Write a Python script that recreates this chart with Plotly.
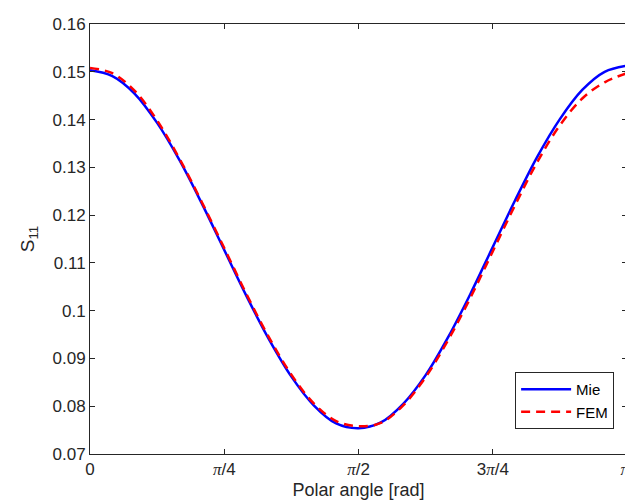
import plotly.graph_objects as go
import numpy as np

# polar angle samples, in fractions of pi (k*pi/24)
theta_frac = [k / 24 for k in range(25)]

mie = [0.1503, 0.1491, 0.1454, 0.1393, 0.1315, 0.1224, 0.1127, 0.1030, 0.0940,
       0.0862, 0.0802, 0.0764, 0.0754, 0.0766, 0.0805, 0.0865, 0.0944, 0.1035,
       0.1133, 0.1231, 0.1323, 0.1401, 0.1462, 0.1500, 0.1513]

fem = [0.1508, 0.1497, 0.1460, 0.1398, 0.1318, 0.1227, 0.1131, 0.1034, 0.0944,
       0.0866, 0.0806, 0.0769, 0.0758, 0.0765, 0.0802, 0.0861, 0.0938, 0.1027,
       0.1124, 0.1221, 0.1312, 0.1388, 0.1444, 0.1478, 0.1497]

x_tick_frac = [0, 0.25, 0.5, 0.75, 0.999999]
PI = "<span style=\"font-family:'Liberation Serif', 'DejaVu Serif', serif\"><i>π</i></span>"
x_tick_text = ["0", PI + "/4", PI + "/2", "3" + PI + "/4", PI + " "]
y_tick_vals = [0.07, 0.08, 0.09, 0.10, 0.11, 0.12, 0.13, 0.14, 0.15, 0.16]
y_tick_text = ["0.07", "0.08", "0.09", "0.1", "0.11", "0.12", "0.13", "0.14", "0.15", "0.16"]

theta = [t * np.pi for t in theta_frac]
x_tick_vals = [t * np.pi for t in x_tick_frac]
AX = "#262626"
FONT = "Arial, 'Liberation Sans', Helvetica, sans-serif"

fig = go.Figure()
fig.add_trace(go.Scatter(x=theta, y=mie, mode="lines", name="Mie",
                         line=dict(color="#0000ff", width=2.5, shape="spline")))
fig.add_trace(go.Scatter(x=theta, y=fem, mode="lines", name="FEM",
                         line=dict(color="#ff0000", width=2.5, dash="9px,6px", shape="spline")))

axis_common = dict(showline=True, linecolor=AX, linewidth=1, mirror="ticks",
                   ticks="inside", ticklen=5, tickcolor=AX, tickwidth=1,
                   showgrid=False, zeroline=False, ticklabeloverflow="allow",
                   tickfont=dict(family=FONT, size=17, color=AX))

fig.update_layout(
    width=633, height=502,
    margin=dict(l=82, r=7, t=16, b=56),
    paper_bgcolor="white", plot_bgcolor="white",
    font=dict(family=FONT, color=AX),
    xaxis=dict(range=[0, np.pi], tickvals=x_tick_vals, ticktext=x_tick_text,
               title=dict(text="Polar angle [rad]", font=dict(size=18, color=AX), standoff=4),
               **axis_common),
    yaxis=dict(range=[0.07, 0.16], tickvals=y_tick_vals, ticktext=y_tick_text,
               title=dict(text="S<sub>11</sub>", font=dict(size=19, color=AX), standoff=12),
               **axis_common),
    legend=dict(x=0.976, y=0.058, xanchor="right", yanchor="bottom",
                bgcolor="white", bordercolor=AX, borderwidth=1,
                font=dict(family=FONT, size=15, color="black"),
                itemwidth=50, tracegroupgap=0),
    showlegend=True,
)

fig.write_html("out.html")
